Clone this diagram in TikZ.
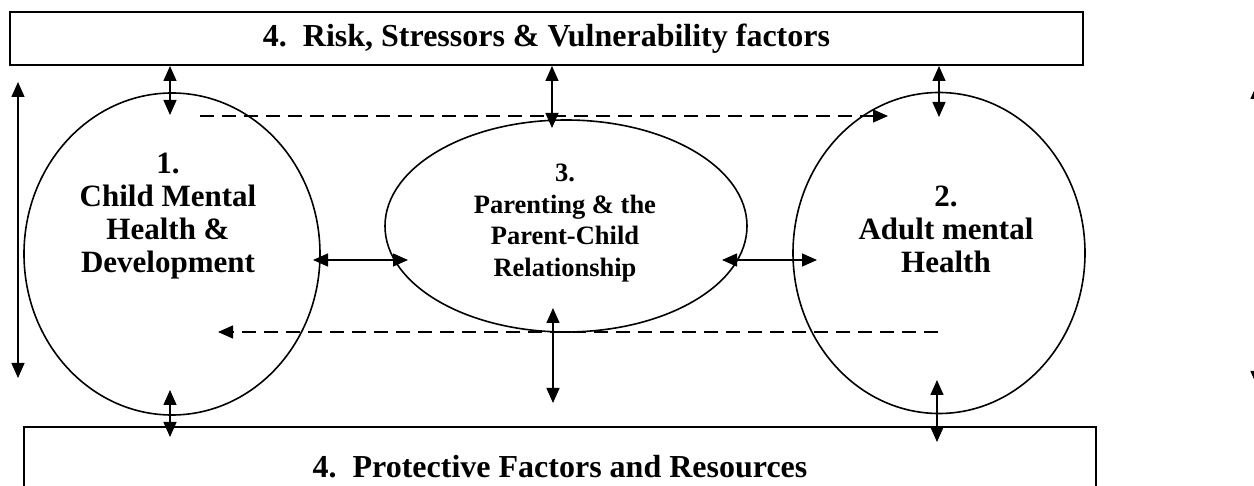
\documentclass[tikz,border=0pt]{standalone}
\usepackage{fontspec}
\setmainfont{Liberation Serif}
\usetikzlibrary{shapes.geometric,arrows.meta,positioning}

\tikzset{
  factorbox/.style={draw, line width=2pt, minimum height=53pt, inner sep=0pt,
    font=\fontsize{32}{34}\selectfont\bfseries},
  areashape/.style={draw, ellipse, line width=1.6pt, inner sep=0pt},
  areatext/.style={align=center, inner sep=0pt, font=\fontsize{31}{33}\selectfont\bfseries},
  dbl/.style={{Triangle[length=15pt,width=13pt]}-{Triangle[length=15pt,width=13pt]}, line width=1.4pt},
  dashlink/.style={-{Triangle[length=15pt,width=13pt]}, line width=1.4pt, dash pattern=on 14pt off 8pt},
}

\begin{document}
\begin{tikzpicture}[x=1pt,y=-1pt]
	\useasboundingbox (0,0) rectangle (1254,486);
	\clip (0,0) rectangle (1254,486);
	\fill[white] (0,0) rectangle (1254,486);

	%%factor boxes
	\node[factorbox, minimum width=1073pt] (risk) at (546.5,38.5) {4.\ \ Risk, Stressors \& Vulnerability factors};
	\node[factorbox, minimum width=1072pt, minimum height=80pt] (protect) at (560,467) {4.\ \ Protective Factors and Resources};

	%%the three areas
	\node[areashape, minimum width=296pt, minimum height=322pt] (child) at (172,254) {};
	\node[areashape, minimum width=362pt, minimum height=212pt] (parent) at (566,226) {};
	\node[areashape, minimum width=292pt, minimum height=321pt] (adult) at (939,253) {};

	%%Label
	\node[areatext] (childtxt) at (168,216) {1.\\Child Mental\\Health \&\\Development};
	\node[areatext, font=\fontsize{26.5}{31.7}\selectfont\bfseries] (parenttxt) at (565,223) {3.\\Parenting \& the\\Parent-Child\\Relationship};
	\node[areatext] (adulttxt) at (946,229) {2.\\Adult mental\\Health};

	%%end points
	\coordinate (childUp) at (170,115);
	\coordinate (childDown) at (170,390);
	\coordinate (parentUp) at (552,128);
	\coordinate (parentDown) at (553,308);
	\coordinate (adultUp) at (939,117);
	\coordinate (adultDown) at (937,380);
	\coordinate (riskL) at (childUp |- risk.south);
	\coordinate (riskM) at (parentUp |- risk.south);
	\coordinate (riskR) at (adultUp |- risk.south);
	\coordinate (protL) at (170,437);
	\coordinate (protM) at (553,403);
	\coordinate (protR) at (937,442);
	\coordinate (cpA) at (313,260);
	\coordinate (cpB) at (408,260);
	\coordinate (paA) at (722,260);
	\coordinate (paB) at (817,260);
	\coordinate (futStart) at (200,116);
	\coordinate (futEnd) at (888,116);
	\coordinate (backStart) at (938,332);
	\coordinate (backEnd) at (218,332);
	\coordinate (spanTop) at (18,82);
	\coordinate (spanBot) at (18,378);
	\coordinate (edgeTop) at (1257,84);
	\coordinate (edgeBot) at (1257,386);

	%%arrows
	\draw[dbl] (riskL) -- (childUp);
	\draw[dbl] (riskM) -- (parentUp);
	\draw[dbl] (riskR) -- (adultUp);
	\draw[dbl] (childDown) -- (protL);
	\draw[dbl] (parentDown) -- (protM);
	\draw[dbl] (adultDown) -- (protR);
	\draw[dbl] (cpA) -- (cpB);
	\draw[dbl] (paA) -- (paB);
	\draw[dashlink] (futStart) -- (futEnd);
	\draw[dashlink] (backStart) -- (backEnd);
	\draw[dbl] (spanTop) -- (spanBot);
	\draw[dbl] (edgeTop) -- (edgeBot);
\end{tikzpicture}
\end{document}
